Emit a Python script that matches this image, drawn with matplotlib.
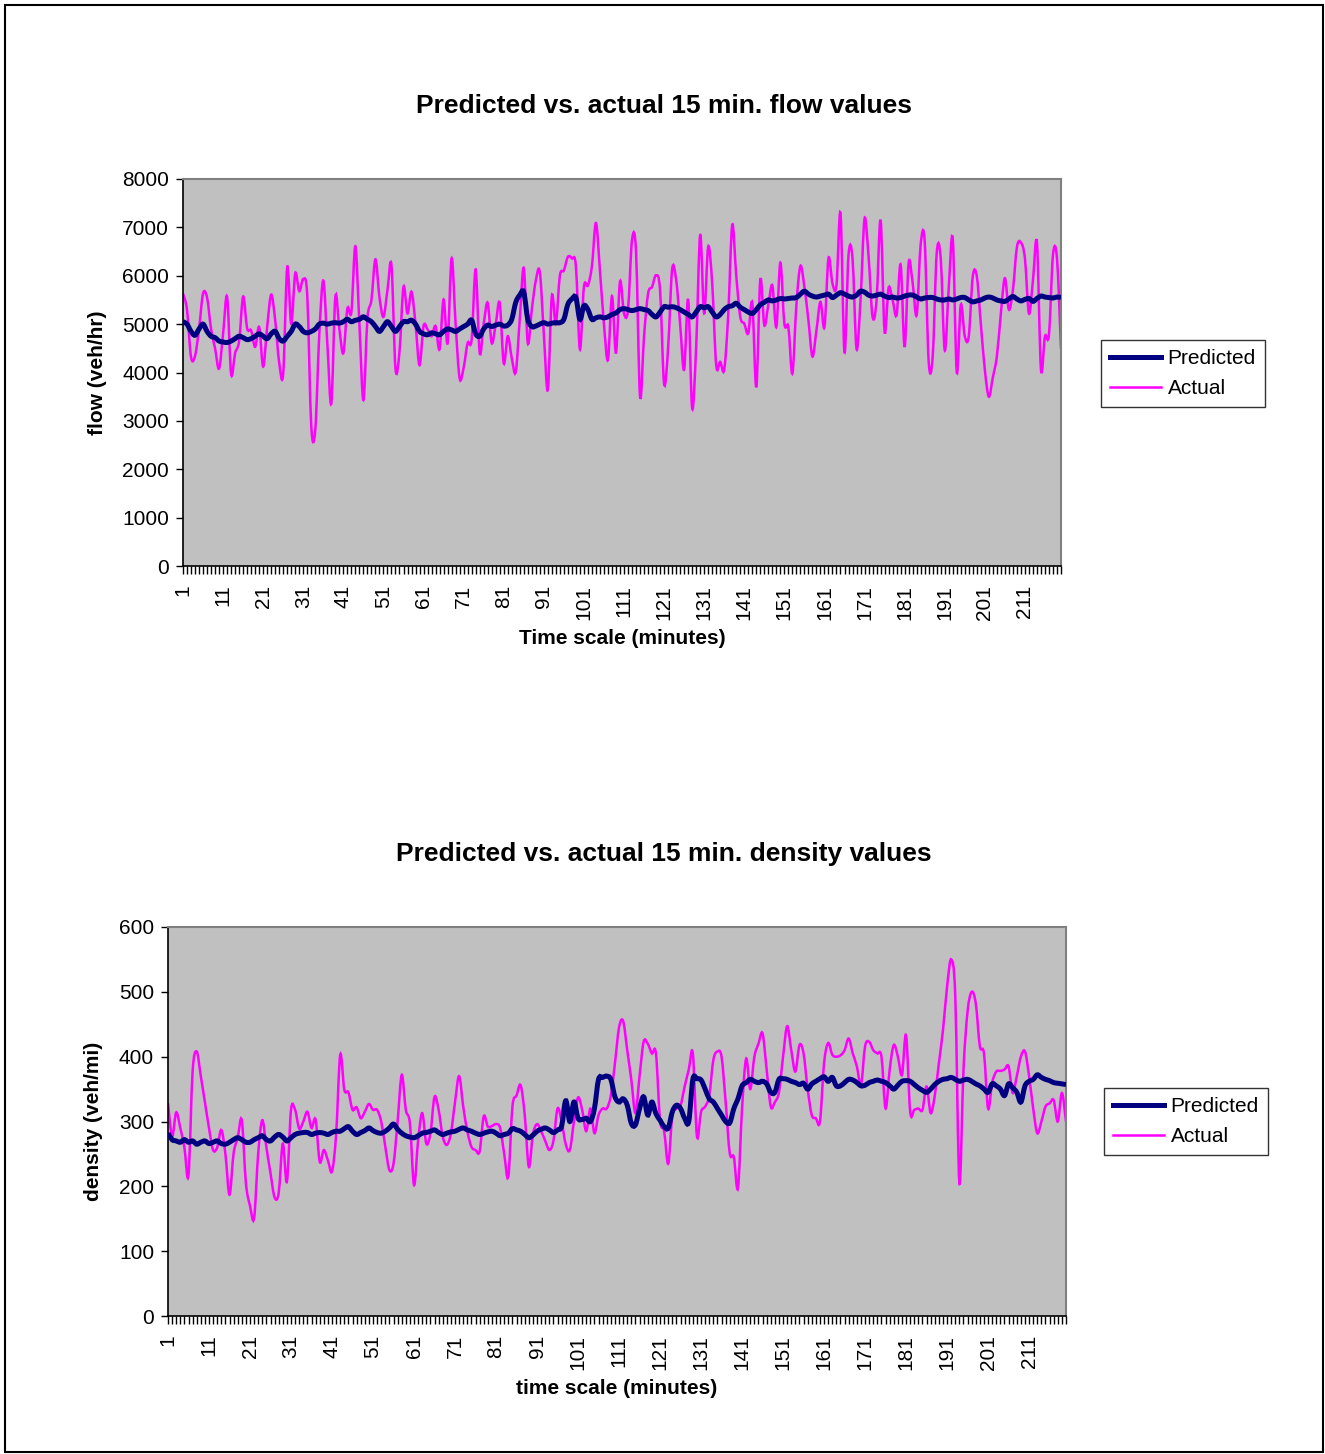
import matplotlib
matplotlib.use('Agg')
import numpy as np
import matplotlib.pyplot as plt
from matplotlib.patches import Rectangle, PathPatch
from matplotlib.path import Path
from matplotlib.lines import Line2D

plt.rcParams['font.family'] = ['Liberation Sans', 'DejaVu Sans']

# time index (minutes)
cats = list(range(1, 221))
tick_labels = [str(c) if (c - 1) % 10 == 0 else '' for c in cats]

# 15 min flow (veh/hr)
flow_actual = [
    5630, 5300, 4320, 4340, 4900, 5630, 5550, 4900, 4500, 4080,
    4800, 5565, 3970, 4400, 4650, 5570, 4910, 4870, 4530, 4940,
    4120, 4950, 5610, 5080, 4200, 3980, 6180, 5010, 6050, 5680,
    5930, 5580, 2880, 2820, 4800, 5900, 4600, 3360, 5560, 4900,
    4400, 5320, 5250, 6610, 5000, 3430, 5110, 5500, 6340, 5560,
    5150, 5700, 6220, 4080, 4430, 5770, 5220, 5670, 5000, 4150,
    4960, 4890, 4750, 4960, 4480, 5510, 4610, 6360, 5000, 3880,
    4100, 4610, 4680, 6130, 4410, 5000, 5440, 4610, 5000, 5440,
    4190, 4750, 4300, 4010, 5100, 6160, 4610, 5300, 5900, 6080,
    4800, 3640, 5580, 5000, 6000, 6110, 6390, 6360, 6200, 4480,
    5770, 5800, 6200, 7090, 6110, 5000, 4260, 5580, 4410, 5880,
    5220, 5300, 6740, 6500, 3500, 4750, 5630, 5770, 6010, 5700,
    3770, 4500, 6130, 5920, 5000, 4060, 5510, 3260, 4530, 6840,
    5220, 6600, 5840, 4150, 4220, 4060, 5200, 7050, 6000, 5150,
    5010, 4810, 5440, 3700, 5920, 4980, 5400, 5800, 4940, 6270,
    5010, 4940, 3980, 5400, 6200, 5770, 5080, 4330, 4870, 5460,
    4940, 6360, 5840, 5800, 7290, 4420, 6430, 6360, 4490, 5500,
    7180, 6400, 5150, 5500, 7150, 4840, 5750, 5500, 5190, 6230,
    4530, 6270, 5850, 5190, 6650, 6720, 4220, 4330, 6470, 6360,
    4460, 5750, 6770, 4010, 5400, 4750, 4750, 5990, 5990, 5010,
    4060, 3500, 3900, 4330, 5220, 5950, 5300, 5700, 6590, 6690,
    6360, 5220, 5900, 6690, 4060, 4750, 4780, 6430, 6360, 4490,
]
flow_pred = [
    5050, 5000, 4850, 4770, 4900, 5000, 4850, 4750, 4720, 4650,
    4630, 4620, 4650, 4700, 4750, 4720, 4680, 4700, 4750, 4800,
    4750, 4700, 4800, 4850, 4700, 4650, 4750, 4850, 5000, 4950,
    4850, 4820, 4850, 4900, 5000, 5020, 5000, 5020, 5030, 5020,
    5050, 5100, 5050, 5080, 5100, 5150, 5100, 5050, 4950, 4850,
    4950, 5050, 4950, 4850, 4950, 5050, 5050, 5080, 5000, 4850,
    4800, 4780, 4820, 4800, 4780, 4850, 4900, 4880, 4850, 4900,
    4950, 5000, 5080, 4800, 4750, 4900, 4980, 4950, 4980, 5000,
    4960, 4980, 5100, 5450, 5600, 5660, 5100, 4950, 4960, 5000,
    5030, 5000, 5020, 5030, 5030, 5100, 5410, 5520, 5550, 5100,
    5380, 5300, 5100, 5130, 5150, 5130, 5150, 5200, 5230, 5300,
    5320, 5300, 5280, 5300, 5320, 5300, 5280, 5200, 5150, 5250,
    5360, 5350, 5360, 5340, 5300, 5250, 5200, 5150, 5250, 5360,
    5340, 5360, 5250, 5150, 5200, 5300, 5360, 5380, 5430, 5350,
    5300, 5250, 5220, 5300, 5400, 5450, 5500, 5480, 5500, 5530,
    5520, 5530, 5540, 5550, 5620, 5680, 5620, 5580, 5560, 5580,
    5600, 5620, 5550, 5600, 5650, 5620, 5580, 5560, 5600, 5680,
    5660, 5600, 5580, 5600, 5620, 5580, 5550, 5560, 5540, 5550,
    5580, 5600, 5600, 5560, 5520, 5540, 5550, 5550, 5520, 5500,
    5500, 5520, 5500, 5520, 5550, 5550, 5500, 5460, 5480, 5500,
    5540, 5560, 5540, 5500, 5480, 5470, 5520, 5570, 5520, 5480,
    5510, 5530, 5470, 5530, 5580, 5560, 5550, 5540, 5560, 5550,
]

# 15 min density (veh/mi)
dens_actual = [
    328, 277, 314, 290, 260, 217, 377, 408, 370, 330,
    290, 256, 260, 287, 250, 187, 251, 275, 302, 205,
    170, 151, 251, 302, 260, 220, 183, 190, 266, 207,
    318, 318, 289, 300, 315, 290, 303, 238, 256, 240,
    223, 280, 403, 349, 345, 318, 322, 305, 315, 327,
    318, 318, 300, 261, 225, 235, 300, 372, 318, 297,
    202, 271, 313, 266, 282, 338, 318, 277, 264, 282,
    330, 370, 323, 285, 261, 256, 254, 308, 292, 293,
    296, 290, 250, 215, 323, 340, 356, 310, 230, 280,
    296, 285, 270, 256, 270, 320, 300, 265, 256, 300,
    337, 318, 285, 320, 282, 310, 320, 320, 340, 390,
    445, 455, 410, 364, 313, 370, 423, 420, 405, 405,
    302, 285, 235, 310, 320, 325, 354, 380, 405, 277,
    315, 323, 340, 395, 408, 400, 330, 251, 245, 197,
    320, 397, 350, 400, 420, 436, 380, 323, 330, 345,
    400, 447, 410, 377, 418, 405, 350, 310, 305, 300,
    390, 421, 403, 400, 402, 410, 428, 405, 385, 356,
    416, 423, 410, 405, 400, 320, 380, 418, 400, 372,
    433, 315, 318, 320, 318, 354, 313, 340, 390, 441,
    508, 550, 493, 205, 380, 470, 500, 482, 416, 405,
    320, 360, 377, 378, 380, 385, 344, 370, 400, 408,
    370, 320, 282, 300, 323, 328, 333, 300, 344, 300,
]
dens_pred = [
    282, 272, 270, 268, 272, 268, 270, 265, 268, 270,
    266, 268, 270, 266, 265, 268, 272, 275, 272, 268,
    268, 272, 275, 278, 272, 270, 276, 280, 276, 270,
    275, 280, 282, 283, 283, 280, 282, 283, 282, 280,
    283, 285, 285, 289, 292, 285, 280, 283, 286, 290,
    286, 283, 282, 285, 290, 296, 288, 282, 278, 276,
    275, 278, 282, 283, 285, 287, 283, 280, 282, 284,
    285, 288, 290, 287, 285, 282, 280, 282, 284, 285,
    282, 278, 280, 282, 289, 287, 285, 280, 275, 279,
    285, 288, 290, 287, 283, 287, 293, 332, 300, 330,
    305, 303, 305, 300, 320, 365, 368, 370, 365, 338,
    330, 335, 325, 297, 295, 320, 338, 310, 330, 312,
    302, 292, 290, 315, 325, 320, 305, 300, 365, 366,
    364, 350, 335, 330, 320, 310, 300, 298, 320, 335,
    355, 360, 365, 362, 360, 362, 358, 345, 345, 365,
    366, 365, 362, 360, 357, 359, 350, 358, 362, 366,
    369, 362, 368, 355, 355, 360, 365, 364, 360, 355,
    356, 360, 362, 364, 362, 360, 355, 350, 356, 362,
    363, 362, 357, 352, 348, 345, 350, 357, 362, 365,
    366, 368, 365, 362, 364, 365, 362, 358, 355, 350,
    345, 358, 355, 350, 340, 358, 352, 345, 330, 355,
    362, 365, 372, 368, 365, 363, 360, 359, 358, 357,
]

NAVY = '#000080'
MAGENTA = '#FF00FF'
W, H = 1325, 1454


def smooth_path(x, y):
    # bezier path through every data point (spreadsheet-style smoothed line)
    p = np.column_stack([x, y]).astype(float)
    ext = np.vstack([p[0], p, p[-1]])
    verts = [p[0]]
    codes = [Path.MOVETO]
    for i in range(len(p) - 1):
        c1 = ext[i + 1] + (ext[i + 2] - ext[i]) / 6.0
        c2 = ext[i + 2] - (ext[i + 3] - ext[i + 1]) / 6.0
        verts += [c1, c2, ext[i + 2]]
        codes += [Path.CURVE4] * 3
    return Path(verts, codes)


def draw_panel(ax, pred, actual, ymax, ystep, ylabel, xlabel, legend_xy):
    ax.set_facecolor('#C0C0C0')
    ax.add_patch(PathPatch(smooth_path(cats, actual), fill=False,
                           edgecolor=MAGENTA, lw=1.8, zorder=2))
    ax.add_patch(PathPatch(smooth_path(cats, pred), fill=False,
                           edgecolor=NAVY, lw=3.6, zorder=3))
    ax.set_xlim(1, 220)
    ax.set_ylim(0, ymax)
    ax.set_yticks(range(0, ymax + 1, ystep))
    ax.set_xticks(cats)
    ax.set_xticklabels(tick_labels, rotation=90)
    ax.tick_params(axis='x', direction='out', length=5.5, width=1, pad=8, labelsize=15)
    ax.tick_params(axis='y', direction='out', length=5, width=1, pad=5, labelsize=15)
    for s in ['top', 'right']:
        ax.spines[s].set_color('#808080')
        ax.spines[s].set_linewidth(1.5)
    for s in ['left', 'bottom']:
        ax.spines[s].set_color('black')
        ax.spines[s].set_linewidth(1.2)
    ax.set_ylabel(ylabel, fontsize=15, fontweight='bold')
    ax.set_xlabel(xlabel, fontsize=15, fontweight='bold')
    ax.xaxis.set_label_coords(0.5, -0.163)
    handles = [Line2D([], [], color=NAVY, lw=3.6), Line2D([], [], color=MAGENTA, lw=1.8)]
    leg = ax.legend(handles, ['Predicted', 'Actual'], loc='upper left',
                    bbox_to_anchor=(legend_xy[0] / W, 1 - legend_xy[1] / H),
                    bbox_transform=fig.transFigure, fontsize=15, frameon=True,
                    fancybox=False, shadow=False, borderpad=0.45,
                    handlelength=2.45, handletextpad=0.3, labelspacing=0.5,
                    borderaxespad=0)
    leg.get_frame().set_edgecolor('black')
    leg.get_frame().set_linewidth(1.0)


fig = plt.figure(figsize=(W / 100, H / 100), dpi=100)

ax1 = fig.add_axes([183 / W, 1 - 566 / H, 878 / W, 387 / H])
draw_panel(ax1, flow_pred, flow_actual, 8000, 1000, 'flow (veh/hr)',
           'Time scale (minutes)', (1101, 340))
ax1.yaxis.set_label_coords(-0.086, 0.5)

ax2 = fig.add_axes([168 / W, 1 - 1316 / H, 898 / W, 389 / H])
draw_panel(ax2, dens_pred, dens_actual, 600, 100, 'density (veh/mi)',
           'time scale (minutes)', (1104, 1088))
ax2.yaxis.set_label_coords(-0.072, 0.5)

fig.text(664 / W, 1 - 106 / H, 'Predicted vs. actual 15 min. flow values',
         ha='center', va='center', fontsize=19, fontweight='bold')
fig.text(664 / W, 1 - 854 / H, 'Predicted vs. actual 15 min. density values',
         ha='center', va='center', fontsize=19, fontweight='bold')

# outer frame
fig.patches.append(Rectangle((5 / W, 2 / H), 1318 / W, 1447 / H, fill=False,
                             edgecolor='black', lw=1.5, transform=fig.transFigure))

fig.savefig('out.png', dpi=100)
